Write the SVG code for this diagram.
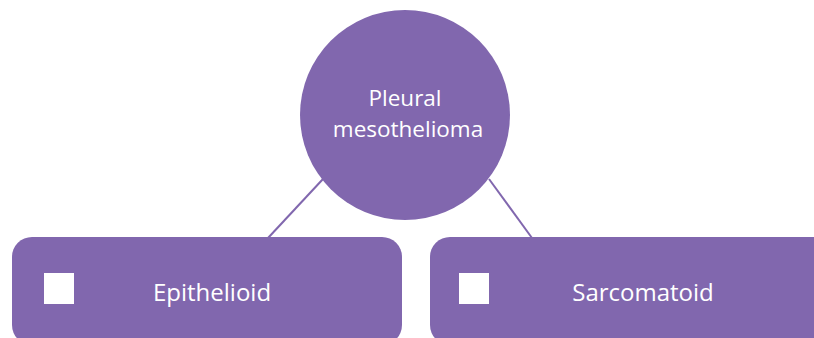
<svg xmlns="http://www.w3.org/2000/svg" width="814" height="338" viewBox="0 0 814 338">
<style>
.shape{fill:#8167AE;}
.conn{stroke:#8167AE;stroke-width:2;fill:none;}
.lbl{font-family:"Open Sans","Liberation Sans",sans-serif;fill:#ffffff;text-anchor:middle;}
.sq{fill:#ffffff;}
</style>
<rect width="814" height="338" fill="#ffffff"/>
<g id="connectors">
<line class="conn" x1="323" y1="179" x2="268" y2="238"/>
<line class="conn" x1="489" y1="179" x2="532" y2="238"/>
</g>
<g id="node-root">
<circle class="shape" cx="405" cy="115" r="105"/>
<text class="lbl" font-size="22.5" x="405" y="106">Pleural</text>
<text class="lbl" font-size="22.5" x="408" y="137">mesothelioma</text>
</g>
<g id="node-epithelioid">
<rect class="shape" x="12" y="237" width="390" height="108" rx="20" ry="20"/>
<rect class="sq" x="44" y="273" width="30" height="31"/>
<text class="lbl" font-size="24" x="212" y="301">Epithelioid</text>
</g>
<g id="node-sarcomatoid">
<rect class="shape" x="430" y="237" width="410" height="108" rx="20" ry="20"/>
<rect class="sq" x="459" y="273" width="30" height="31"/>
<text class="lbl" font-size="24" x="643" y="301">Sarcomatoid</text>
</g>
</svg>
